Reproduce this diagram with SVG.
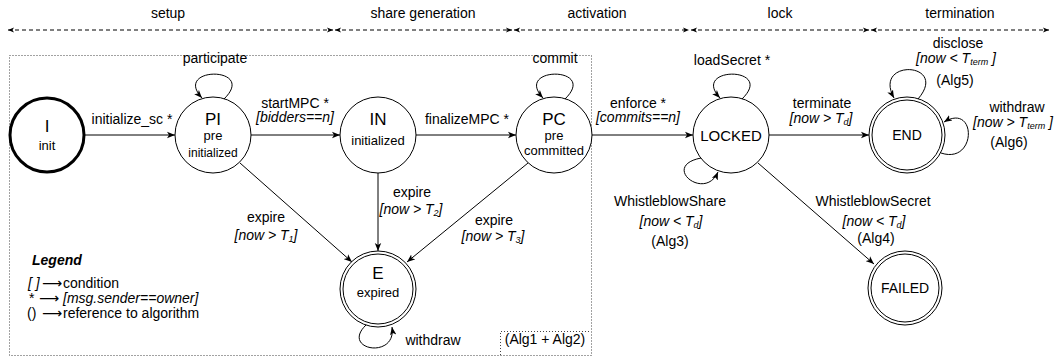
<svg xmlns="http://www.w3.org/2000/svg" width="1057" height="356" viewBox="0 0 1057 356">
<style>
text{font-family:"Liberation Sans",Arial,sans-serif;fill:#000}
.l{font-size:14px;text-anchor:middle}
.c{font-size:14px;text-anchor:middle;font-style:italic}
.big{font-size:17px;text-anchor:middle}
.sub{font-size:13px;text-anchor:middle}
.st{fill:#fff;stroke:#000;stroke-width:1}
.e{fill:none;stroke:#000;stroke-width:1;marker-end:url(#ah)}
.tl{fill:none;stroke:#000;stroke-width:1;stroke-dasharray:4 3;marker-start:url(#ts);marker-end:url(#te)}
.box{fill:none;stroke:#444;stroke-width:1;stroke-dasharray:1 2}
</style>
<defs>
<marker id="ah" markerUnits="userSpaceOnUse" markerWidth="9" markerHeight="8" refX="8" refY="4" orient="auto"><path d="M0,0.8 L8,4 L0,7.2 L2,4 z" fill="#000"/></marker>
<marker id="te" markerUnits="userSpaceOnUse" markerWidth="7" markerHeight="6" refX="6" refY="3" orient="auto"><path d="M0,0.5 L6,3 L0,5.5 L1.5,3 z" fill="#000"/></marker>
<marker id="ts" markerUnits="userSpaceOnUse" markerWidth="7" markerHeight="6" refX="0" refY="3" orient="auto"><path d="M6,0.5 L0,3 L6,5.5 L4.5,3 z" fill="#000"/></marker>
</defs>

<g id="timeline">
<path class="tl" d="M8,30 L333,30"/>
<path class="tl" d="M335,30 L512,30"/>
<path class="tl" d="M514,30 L689,30"/>
<path class="tl" d="M691,30 L869,30"/>
<path class="tl" d="M871,30 L1049,30"/>
<text class="l" x="168" y="18">setup</text>
<text class="l" x="423" y="18">share generation</text>
<text class="l" x="597" y="18">activation</text>
<text class="l" x="780" y="18">lock</text>
<text class="l" x="960" y="18">termination</text>
</g>

<g id="setup-box">
<rect class="box" x="9.5" y="55.5" width="582" height="300"/>
<path class="box" d="M500.5,355 L500.5,331.5 L591,331.5"/>
<text class="l" x="545" y="344">(Alg1 + Alg2)</text>
</g>

<g id="connectors">
<path class="e" d="M85,135 L175,135"/>
<path class="e" d="M251,135 L340,135"/>
<path class="e" d="M416,135 L516,135"/>
<path class="e" d="M592,135 L693,135"/>
<path class="e" d="M769,135 L869,135"/>
<path class="e" d="M758,163 L874,264"/>
<path class="e" d="M240,163 L352,262"/>
<path class="e" d="M378,173 L378,251"/>
<path class="e" d="M528,163 L407,262"/>
<path class="e" d="M224,99 C258,66 172,66 202,98"/>
<path class="e" d="M565,99 C599,66 513,66 543,98"/>
<path class="e" d="M742,99 C776,66 690,66 720,98"/>
<path class="e" d="M701,158 C660,166 705,202 718,172"/>
<path class="e" d="M918,99 C950,62 872,58 894,98"/>
<path class="e" d="M941,153 C977,165 977,102 944,122"/>
<path class="e" d="M366,325 C340,350 397,360 392,327"/>
<text class="l" x="215" y="63">participate</text>
<text class="l" x="555" y="63">commit</text>
<text class="l" x="732" y="65">loadSecret *</text>
<text class="l" x="132" y="124">initialize_sc *</text>
<text class="l" x="295" y="108">startMPC *</text>
<text class="c" x="295" y="122">[bidders==n]</text>
<text class="l" x="467" y="124">finalizeMPC *</text>
<text class="l" x="638" y="108">enforce *</text>
<text class="c" x="638" y="122">[commits==n]</text>
<text class="l" x="822" y="108">terminate</text>
<text class="c" x="821" y="123">[now &gt; T<tspan font-size="9" dy="2">d</tspan><tspan dy="-2">]</tspan></text>
<text class="l" x="266" y="222">expire</text>
<text class="c" x="266" y="240">[now &gt; T<tspan font-size="9" dy="2">1</tspan><tspan dy="-2">]</tspan></text>
<text class="l" x="412" y="197">expire</text>
<text class="c" x="411" y="214">[now &gt; T<tspan font-size="9" dy="2">2</tspan><tspan dy="-2">]</tspan></text>
<text class="l" x="494" y="225">expire</text>
<text class="c" x="493" y="241">[now &gt; T<tspan font-size="9" dy="2">3</tspan><tspan dy="-2">]</tspan></text>
<text class="l" x="433" y="345">withdraw</text>
<text class="l" x="670" y="206">WhistleblowShare</text>
<text class="c" x="671" y="226">[now &lt; T<tspan font-size="9" dy="2">d</tspan><tspan dy="-2">]</tspan></text>
<text class="l" x="670" y="246">(Alg3)</text>
<text class="l" x="873" y="206">WhistleblowSecret</text>
<text class="c" x="874" y="226">[now &lt; T<tspan font-size="9" dy="2">d</tspan><tspan dy="-2">]</tspan></text>
<text class="l" x="876" y="243">(Alg4)</text>
<text class="l" x="958" y="48">disclose</text>
<text class="c" x="956" y="63">[now &lt; T<tspan font-size="9" dy="2">term</tspan><tspan dy="-2"> ]</tspan></text>
<text class="l" x="955" y="85">(Alg5)</text>
<text class="l" x="1017" y="112">withdraw</text>
<text class="c" x="1013" y="127">[now &gt; T<tspan font-size="9" dy="2">term</tspan><tspan dy="-2"> ]</tspan></text>
<text class="l" x="1009" y="147">(Alg6)</text>
</g>

<g id="node-I">
<circle cx="47" cy="135" r="37" fill="#fff" stroke="#000" stroke-width="3"/>
<text class="big" x="47" y="132">I</text>
<text class="sub" x="47" y="150">init</text>
</g>
<g id="node-PI">
<circle class="st" cx="213" cy="135" r="38"/>
<text class="big" x="213" y="125">PI</text>
<text class="sub" x="213" y="140">pre</text>
<text x="213" y="157" font-size="12" text-anchor="middle">initialized</text>
</g>
<g id="node-IN">
<circle class="st" cx="378" cy="135" r="38"/>
<text class="big" x="378" y="125">IN</text>
<text class="sub" x="378" y="145">initialized</text>
</g>
<g id="node-PC">
<circle class="st" cx="554" cy="135" r="38"/>
<text class="big" x="554" y="125">PC</text>
<text class="sub" x="554" y="140">pre</text>
<text class="sub" x="554" y="155">committed</text>
</g>
<g id="node-LOCKED">
<circle class="st" cx="731" cy="135" r="38"/>
<text class="l" x="731" y="141" style="font-size:15px">LOCKED</text>
</g>
<g id="node-END">
<circle class="st" cx="907" cy="135" r="38"/>
<circle class="st" cx="907" cy="135" r="35"/>
<text class="l" x="907" y="140">END</text>
</g>
<g id="node-E">
<circle class="st" cx="378" cy="289" r="38"/>
<circle class="st" cx="378" cy="289" r="35"/>
<text class="big" x="378" y="279">E</text>
<text class="sub" x="378" y="297">expired</text>
</g>
<g id="node-FAILED">
<circle class="st" cx="905" cy="288" r="37"/>
<circle class="st" cx="905" cy="288" r="34"/>
<text class="l" x="905" y="293">FAILED</text>
</g>

<g id="legend">
<text x="32" y="265" font-size="14" font-weight="bold" font-style="italic">Legend</text>
<text x="28" y="288" font-size="14"><tspan font-style="italic">[ ]</tspan><tspan x="42" font-family="DejaVu Sans">⟶</tspan><tspan x="63">condition</tspan></text>
<text x="29" y="303" font-size="14">*<tspan x="39" font-family="DejaVu Sans">⟶</tspan><tspan x="63" font-style="italic">[msg.sender==owner]</tspan></text>
<text x="27" y="318" font-size="14">()<tspan x="42" font-family="DejaVu Sans">⟶</tspan><tspan x="63">reference to algorithm</tspan></text>
</g>
</svg>
